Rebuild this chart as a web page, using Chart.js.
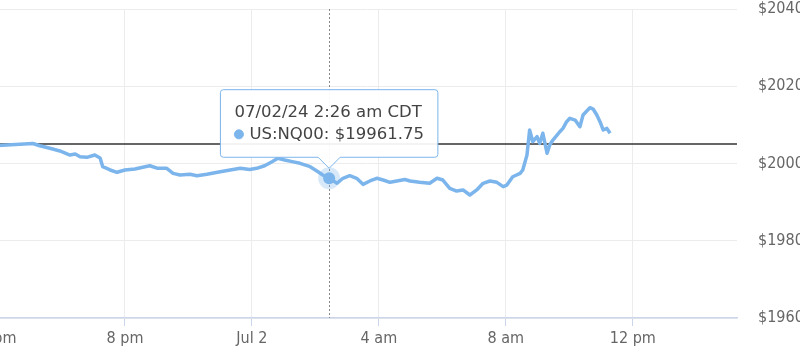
<!DOCTYPE html>
<html>
<head>
<meta charset="utf-8">
<script src="https://cdn.jsdelivr.net/npm/chart.js@4.4.1/dist/chart.umd.min.js"></script>
<style>
    html, body { margin: 0; padding: 0; background: #fff; overflow: hidden; width: 800px; height: 361px; }
    #wrap { position: absolute; left: -42px; top: 0; width: 859px; height: 361px; }
</style>
</head>
<body>
<div id="wrap"><canvas id="priceChart"></canvas></div>
<script>
// ===== Data (minutes from Jul 1 00:00, CDT) =====
const times = [960, 1026, 1039, 1058, 1077, 1096, 1106, 1115, 1128, 1143, 1153, 1158, 1172, 1185, 1200, 1219, 1238, 1247, 1262, 1279, 1291, 1304, 1323, 1336, 1355, 1380, 1399, 1418, 1436, 1449, 1464, 1478, 1489, 1502, 1516, 1531, 1550, 1565, 1574, 1586, 1601, 1612, 1625, 1638, 1650, 1663, 1676, 1688, 1701, 1714, 1729, 1739, 1757, 1776, 1790, 1801, 1814, 1827, 1839, 1852, 1865, 1877, 1890, 1903, 1915, 1922, 1933, 1947, 1952, 1960, 1965, 1971, 1979, 1984, 1990, 1998, 2003, 2009, 2016, 2022, 2028, 2035, 2041, 2051, 2060, 2066, 2073, 2079, 2085, 2092, 2098, 2104, 2111, 2117];

const prices = [20046.5, 20051.75, 20046, 20039.5, 20032.5, 20022, 20024.5, 20017.5, 20016, 20022, 20014.25, 19991.75, 19983.25, 19977.25, 19983.25, 19985.75, 19991.75, 19994.25, 19987.5, 19987.5, 19974.5, 19970.25, 19972, 19968.5, 19972, 19978.75, 19983.25, 19987.5, 19984.5, 19987.5, 19994.25, 20004.75, 20013.5, 20009, 20004.75, 20000.5, 19991.75, 19978.75, 19970.25, 19961.75, 19948.75, 19961.75, 19968.5, 19961.75, 19946, 19954.75, 19961.75, 19957.25, 19951.25, 19954.75, 19958.5, 19954.75, 19951.25, 19948.75, 19961.75, 19957.25, 19935.75, 19928.75, 19931.5, 19918.5, 19931.5, 19948.75, 19954.75, 19951.25, 19940, 19944.25, 19965.75, 19974.5, 19983.25, 20022, 20086.75, 20056.5, 20069.5, 20052.25, 20078.25, 20026.5, 20048, 20060.75, 20072, 20082.25, 20091, 20108.25, 20117, 20112.5, 20095.25, 20125.5, 20136, 20144.5, 20141, 20125.5, 20108.25, 20086.75, 20091, 20078.25];

const seriesName = "US:NQ00";
const previousClose = 20050.5;

const timeTicks = [960, 1200, 1440, 1680, 1920, 2160];
const timeTickLabels = ["4 pm", "8 pm", "Jul 2", "4 am", "8 am", "12 pm"];
const priceTicks = [19600, 19800, 20000, 20200, 20400];

const xMin = 960;
const xMax = 2357;
const hoverTime = 1586;

const BLUE = "#7cb5ec";
const TICK_FONT = { family: "'DejaVu Sans Condensed', 'Liberation Sans Narrow', sans-serif", size: 16 };
const TIP_FONT = { family: "'DejaVu Sans', sans-serif", size: 16.5, weight: "normal" };

// ===== Tooltip title formatter =====
function formatTime(t) {
    const day = t >= 1440 ? 2 : 1;
    const mins = t % 1440;
    const h24 = Math.floor(mins / 60);
    const m = mins % 60;
    const ampm = h24 < 12 ? "am" : "pm";
    const h12 = h24 % 12 === 0 ? 12 : h24 % 12;
    return "07/0" + day + "/24 " + h12 + ":" + String(m).padStart(2, "0") + " " + ampm + " CDT";
}

// ===== Crosshair =====
const crosshair = {
    id: "crosshair",
    beforeDatasetsDraw(chart) {
        const active = chart.getActiveElements();
        if (!active.length) return;
        const ctx = chart.ctx;
        const x = Math.round(active[0].element.x) + 0.5;
        const { top, bottom } = chart.chartArea;
        ctx.save();
        ctx.strokeStyle = "#8a8a8a";
        ctx.lineWidth = 1;
        ctx.setLineDash([2, 2]);
        ctx.beginPath();
        ctx.moveTo(x, top);
        ctx.lineTo(x, bottom);
        ctx.stroke();
        ctx.restore();
    }
};

// ===== Chart =====
const ctx = document.getElementById("priceChart").getContext("2d");

const chart = new Chart(ctx, {
    type: "line",
    data: {
        datasets: [
            {
                label: seriesName,
                data: times.map((t, i) => ({ x: t, y: prices[i] })),
                borderColor: BLUE,
                backgroundColor: BLUE,
                borderWidth: 3.5,
                borderJoinStyle: "round",
                tension: 0,
                pointRadius: 0,
                pointHitRadius: 0,
                pointHoverRadius: 6,
                pointHoverBackgroundColor: BLUE,
                pointHoverBorderColor: "rgba(124,181,236,0.3)",
                pointHoverBorderWidth: 10
            },
            {
                label: "close",
                data: [{ x: xMin, y: previousClose }, { x: xMax, y: previousClose }],
                borderColor: "#333333",
                borderWidth: 1.5,
                pointRadius: 0,
                pointHoverRadius: 0
            }
        ]
    },
    options: {
        responsive: true,
        maintainAspectRatio: false,
        animation: false,
        events: [],
        layout: { padding: { left: 40, top: 9, right: 0, bottom: 0 } },
        scales: {
            x: {
                type: "linear",
                min: xMin,
                max: xMax,
                afterBuildTicks(scale) {
                    scale.ticks = timeTicks.map(v => ({ value: v }));
                },
                afterFit(scale) {
                    scale.height = 43;
                    scale.paddingLeft = 0;
                    scale.paddingRight = 0;
                },
                ticks: {
                    autoSkip: false,
                    maxRotation: 0,
                    padding: 3,
                    color: "#666666",
                    font: TICK_FONT,
                    callback: (v) => timeTickLabels[timeTicks.indexOf(v)]
                },
                grid: {
                    color: "#ececec",
                    tickColor: "#ccd6eb",
                    tickLength: 8
                },
                border: { color: "#ccd6eb", width: 1.5 }
            },
            y: {
                position: "right",
                min: 19600,
                max: 20400,
                afterBuildTicks(scale) {
                    scale.ticks = priceTicks.map(v => ({ value: v }));
                },
                afterFit(scale) {
                    scale.width = 80;
                    scale.paddingTop = 0;
                    scale.paddingBottom = 0;
                },
                ticks: {
                    padding: 21,
                    color: "#666666",
                    font: TICK_FONT,
                    callback: (v) => "$" + v
                },
                grid: { color: "#ececec", drawTicks: false },
                border: { display: false }
            }
        },
        plugins: {
            legend: { display: false },
            tooltip: {
                enabled: true,
                filter: (item) => item.datasetIndex === 0,
                xAlign: "center",
                yAlign: "bottom",
                backgroundColor: "rgba(255,255,255,0.93)",
                borderColor: BLUE,
                borderWidth: 1,
                cornerRadius: 3,
                caretSize: 11,
                caretPadding: 10,
                padding: { left: 14, right: 14, top: 13, bottom: 13 },
                titleColor: "#444444",
                bodyColor: "#444444",
                titleFont: TIP_FONT,
                bodyFont: TIP_FONT,
                titleMarginBottom: 2,
                usePointStyle: true,
                boxWidth: 9,
                boxHeight: 9,
                boxPadding: 4,
                callbacks: {
                    title: (items) => formatTime(items[0].parsed.x),
                    label: (item) => item.dataset.label + ": $" + item.parsed.y.toFixed(2),
                    labelPointStyle: () => ({ pointStyle: "circle", rotation: 0 })
                }
            }
        }
    },
    plugins: [crosshair]
});

// ===== Show hovered point =====
const hoverIndex = times.indexOf(hoverTime);
const activeEls = [{ datasetIndex: 0, index: hoverIndex }];
chart.setActiveElements(activeEls);
chart.tooltip.setActiveElements(activeEls, { x: 0, y: 0 });
chart.update();
</script>
</body>
</html>
